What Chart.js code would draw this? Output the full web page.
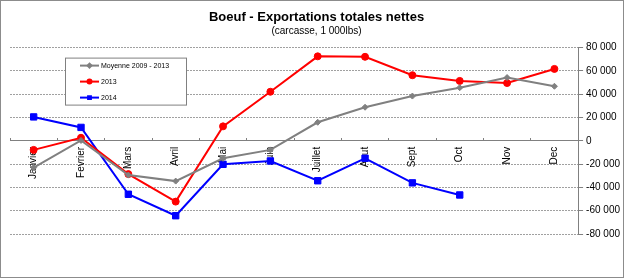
<!DOCTYPE html>
<html>
<head>
<meta charset="utf-8">
<script src="https://cdn.jsdelivr.net/npm/chart.js@4.4.0/dist/chart.umd.min.js"></script>
<style>
body{margin:0;background:#fff;}
#wrap{width:624px;height:278px;box-sizing:border-box;border:1px solid #8c8c8c;}
</style>
</head>
<body>
<div id="wrap"><canvas id="myChart" width="622" height="276"></canvas></div>
<script>
'use strict';
// months (x categories)
let months=['Janvier','Fevrier','Mars','Avril','Mai','Juin','Juillet','Aout','Sept','Oct','Nov','Dec'];
// series
let moyenne=[-23000,300,-29400,-34600,-15000,-7800,15900,28800,38400,45600,54300,46800];
let y2013=[-7800,2600,-28600,-52200,12400,42100,72500,72100,56300,51400,49600,61700];
let y2014=[20500,11500,-45900,-64300,-20200,-17300,-34300,-15000,-36100,-46500,null,null];
// y ticks
let yMin=-80000;
let yMax=80000;
let yStep=20000;

function fmt(v){
  let s=String(Math.abs(v)).replace(/\B(?=(\d{3})+(?!\d))/g,' ');
  return (v<0?'-':'')+s;
}

// legend box inside the plot
let boxLegend={
  id:'boxLegend',
  afterDatasetsDraw(chart){
    let ctx=chart.ctx;
    let a=chart.chartArea;
    let x=a.left+55, y=a.top+10, w=121, h=47;
    ctx.save();
    ctx.fillStyle='#fff';
    ctx.fillRect(x,y,w,h);
    ctx.strokeStyle='#808080';
    ctx.lineWidth=1;
    ctx.strokeRect(x+0.5,y+0.5,w,h);
    chart.data.datasets.forEach(function(ds,i){
      let ry=y+8+i*16;
      ctx.strokeStyle=ds.borderColor;
      ctx.lineWidth=2;
      ctx.beginPath();
      ctx.moveTo(x+15,ry);
      ctx.lineTo(x+34,ry);
      ctx.stroke();
      ctx.fillStyle=ds.borderColor;
      Chart.helpers.drawPoint(ctx,{pointStyle:ds.pointStyle,radius:2,rotation:0,borderWidth:1},x+24.5,ry);
      ctx.fill();
      ctx.fillStyle='#000';
      ctx.font='7px "Liberation Sans", Arial';
      ctx.textBaseline='middle';
      ctx.fillText(ds.label,x+36,ry+0.5);
    });
    ctx.restore();
  }
};

let ctx=document.getElementById('myChart').getContext('2d');
let myChart=new Chart(ctx,{
  type:'line',
  data:{
    labels:months,
    datasets:[{
      label:'Moyenne 2009 - 2013',
      data:moyenne,
      borderColor:'#808080',
      backgroundColor:'#808080',
      borderWidth:2,
      pointStyle:'rectRot',
      pointRadius:3,
      pointBorderWidth:1
    },{
      label:'2013',
      data:y2013,
      borderColor:'#ff0000',
      backgroundColor:'#ff0000',
      borderWidth:2,
      pointStyle:'circle',
      pointRadius:3.5,
      pointBorderWidth:1
    },{
      label:'2014',
      data:y2014,
      borderColor:'#0000ff',
      backgroundColor:'#0000ff',
      borderWidth:2,
      pointStyle:'rect',
      pointRadius:4.5,
      pointBorderWidth:1
    }]
  },
  options:{
    responsive:false,
    animation:false,
    layout:{padding:{left:9,right:0,top:0,bottom:43}},
    plugins:{
      legend:{display:false},
      tooltip:{enabled:false},
      title:{
        display:true,
        text:'Boeuf - Exportations totales nettes',
        color:'#000',
        font:{family:'"Liberation Sans", Arial',size:13,weight:'bold'},
        padding:{top:9,bottom:0}
      },
      subtitle:{
        display:true,
        text:'(carcasse, 1 000lbs)',
        color:'#000',
        font:{family:'"Liberation Sans", Arial',size:10},
        padding:{top:0,bottom:10}
      }
    },
    scales:{
      x:{
        position:{y:0},
        offset:true,
        grid:{offset:true,drawOnChartArea:false,color:'#808080',tickLength:-3},
        border:{color:'#808080',width:1},
        ticks:{
          autoSkip:false,
          maxRotation:90,
          minRotation:90,
          padding:9,
          color:'#000',
          font:{family:'"Liberation Sans", Arial',size:10}
        }
      },
      y:{
        position:'right',
        min:yMin,
        max:yMax,
        grid:{color:'#a0a0a0',tickColor:'#808080',tickLength:5},
        border:{color:'#808080',width:1,dash:[2,1]},
        ticks:{
          stepSize:yStep,
          padding:3,
          color:'#000',
          font:{family:'"Liberation Sans", Arial',size:10},
          callback:function(v){return fmt(v);}
        }
      }
    }
  },
  plugins:[boxLegend]
});
</script>
</body>
</html>
